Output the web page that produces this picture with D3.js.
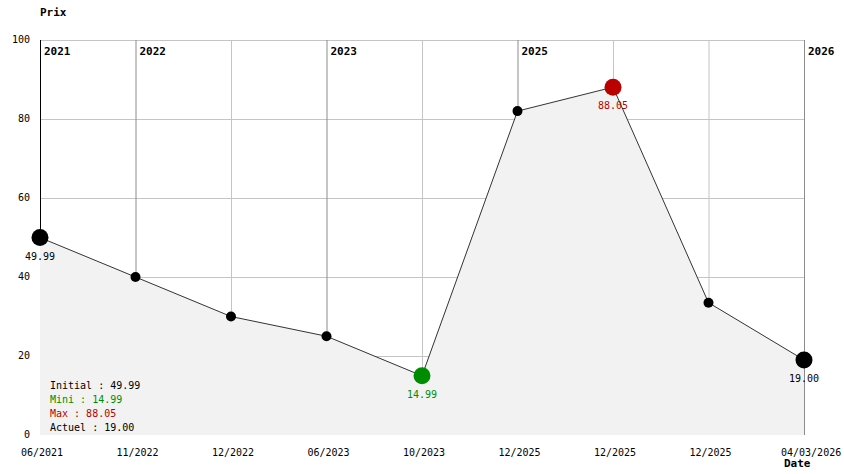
<!DOCTYPE html>
<html>
<head>
<meta charset="utf-8">
<script src="https://cdn.jsdelivr.net/npm/d3@7"></script>
<style>
  body { margin: 0; background: #fff; }
  text { font-family: "DejaVu Sans Mono", "Liberation Mono", monospace; }
</style>
</head>
<body>
<svg id="chart" width="844" height="474"></svg>
<script>
const dateLabels = ['06/2021', '11/2022', '12/2022', '06/2023', '10/2023', '12/2025', '12/2025', '12/2025', '04/03/2026'];
const prices = [49.99, 40, 30, 25, 14.99, 82, 88.05, 33.5, 19];
const yearIndex = [0, 1, 3, 5, 8];
const yearLabels = ['2021', '2022', '2023', '2025', '2026'];
const yTicks = [0, 20, 40, 60, 80, 100];
const summaryLabels = ['Initial : 49.99', 'Mini : 14.99', 'Max : 88.05', 'Actuel : 19.00'];

const GREEN = '#008c00';
const RED = '#bb0000';

const svg = d3.select('#chart');
const margin = { top: 40, right: 40, bottom: 39, left: 40 };
const width = +svg.attr('width');
const height = +svg.attr('height');

const x = d3.scalePoint()
  .domain(d3.range(prices.length))
  .range([margin.left, width - margin.right]);

const y = d3.scaleLinear()
  .domain([0, 100])
  .range([height - margin.bottom, margin.top]);

const minI = d3.minIndex(prices);
const maxI = d3.maxIndex(prices);
const lastI = prices.length - 1;

// grid
const grid = svg.append('g');
grid.selectAll('line.h')
  .data(yTicks.filter(d => d > 0))
  .enter().append('line')
  .attr('x1', x(0)).attr('x2', x(lastI))
  .attr('y1', d => y(d) + 0.5).attr('y2', d => y(d) + 0.5)
  .attr('stroke', '#c4c4c4');

grid.selectAll('line.v')
  .data(d3.range(prices.length))
  .enter().append('line')
  .attr('x1', d => x(d) + 0.5).attr('x2', d => x(d) + 0.5)
  .attr('y1', y(100)).attr('y2', y(0))
  .attr('stroke', d => d === 0 ? '#000' : (yearIndex.includes(d) ? '#8c8c8c' : '#c4c4c4'));

// area + line
const area = d3.area()
  .x((d, i) => x(i))
  .y0(y(0))
  .y1(d => y(d));

svg.append('path')
  .datum(prices)
  .attr('d', area)
  .attr('fill', '#f2f2f2');

svg.append('path')
  .datum(prices)
  .attr('d', d3.line().x((d, i) => x(i)).y(d => y(d)))
  .attr('fill', 'none')
  .attr('stroke', '#333')
  .attr('stroke-width', 1);

// points
const bigPoint = i => i === 0 || i === lastI || i === minI || i === maxI;
const pointColor = i => i === minI ? GREEN : (i === maxI ? RED : '#000');

svg.append('g')
  .selectAll('circle')
  .data(prices)
  .enter().append('circle')
  .attr('cx', (d, i) => x(i))
  .attr('cy', d => y(d))
  .attr('r', (d, i) => bigPoint(i) ? 8.5 : 5)
  .attr('fill', (d, i) => pointColor(i));

svg.append('g')
  .selectAll('text')
  .data(d3.range(prices.length).filter(bigPoint))
  .enter().append('text')
  .attr('x', i => x(i))
  .attr('y', i => y(prices[i]) + 22)
  .attr('text-anchor', 'middle')
  .attr('font-size', 10)
  .attr('fill', i => pointColor(i))
  .text(i => prices[i].toFixed(2));

// year markers
svg.append('g')
  .selectAll('text')
  .data(yearIndex)
  .enter().append('text')
  .attr('x', i => x(i) + 4)
  .attr('y', margin.top + 15)
  .attr('font-size', 11)
  .attr('font-weight', 'bold')
  .text((d, k) => yearLabels[k]);

// axes labels
svg.append('g')
  .selectAll('text')
  .data(yTicks)
  .enter().append('text')
  .attr('x', 30)
  .attr('y', d => y(d) + 3)
  .attr('text-anchor', 'end')
  .attr('font-size', 10)
  .text(d => d);

svg.append('g')
  .selectAll('text')
  .data(dateLabels)
  .enter().append('text')
  .attr('x', (d, i) => i === lastI ? x(i) - 23 : x(i) + 2)
  .attr('y', height - 18)
  .attr('text-anchor', (d, i) => i === lastI ? 'start' : 'middle')
  .attr('font-size', 10)
  .text(d => d);

svg.append('text')
  .attr('x', 40).attr('y', 16)
  .attr('font-size', 11).attr('font-weight', 'bold')
  .text('Prix');

svg.append('text')
  .attr('x', 784).attr('y', 467)
  .attr('font-size', 11).attr('font-weight', 'bold')
  .text('Date');

// summary
svg.append('g')
  .selectAll('text')
  .data(summaryLabels)
  .enter().append('text')
  .attr('x', 50)
  .attr('y', (d, i) => 389 + i * 14)
  .attr('font-size', 10)
  .attr('fill', (d, i) => i === 1 ? GREEN : (i === 2 ? RED : '#000'))
  .text(d => d);
</script>
</body>
</html>
